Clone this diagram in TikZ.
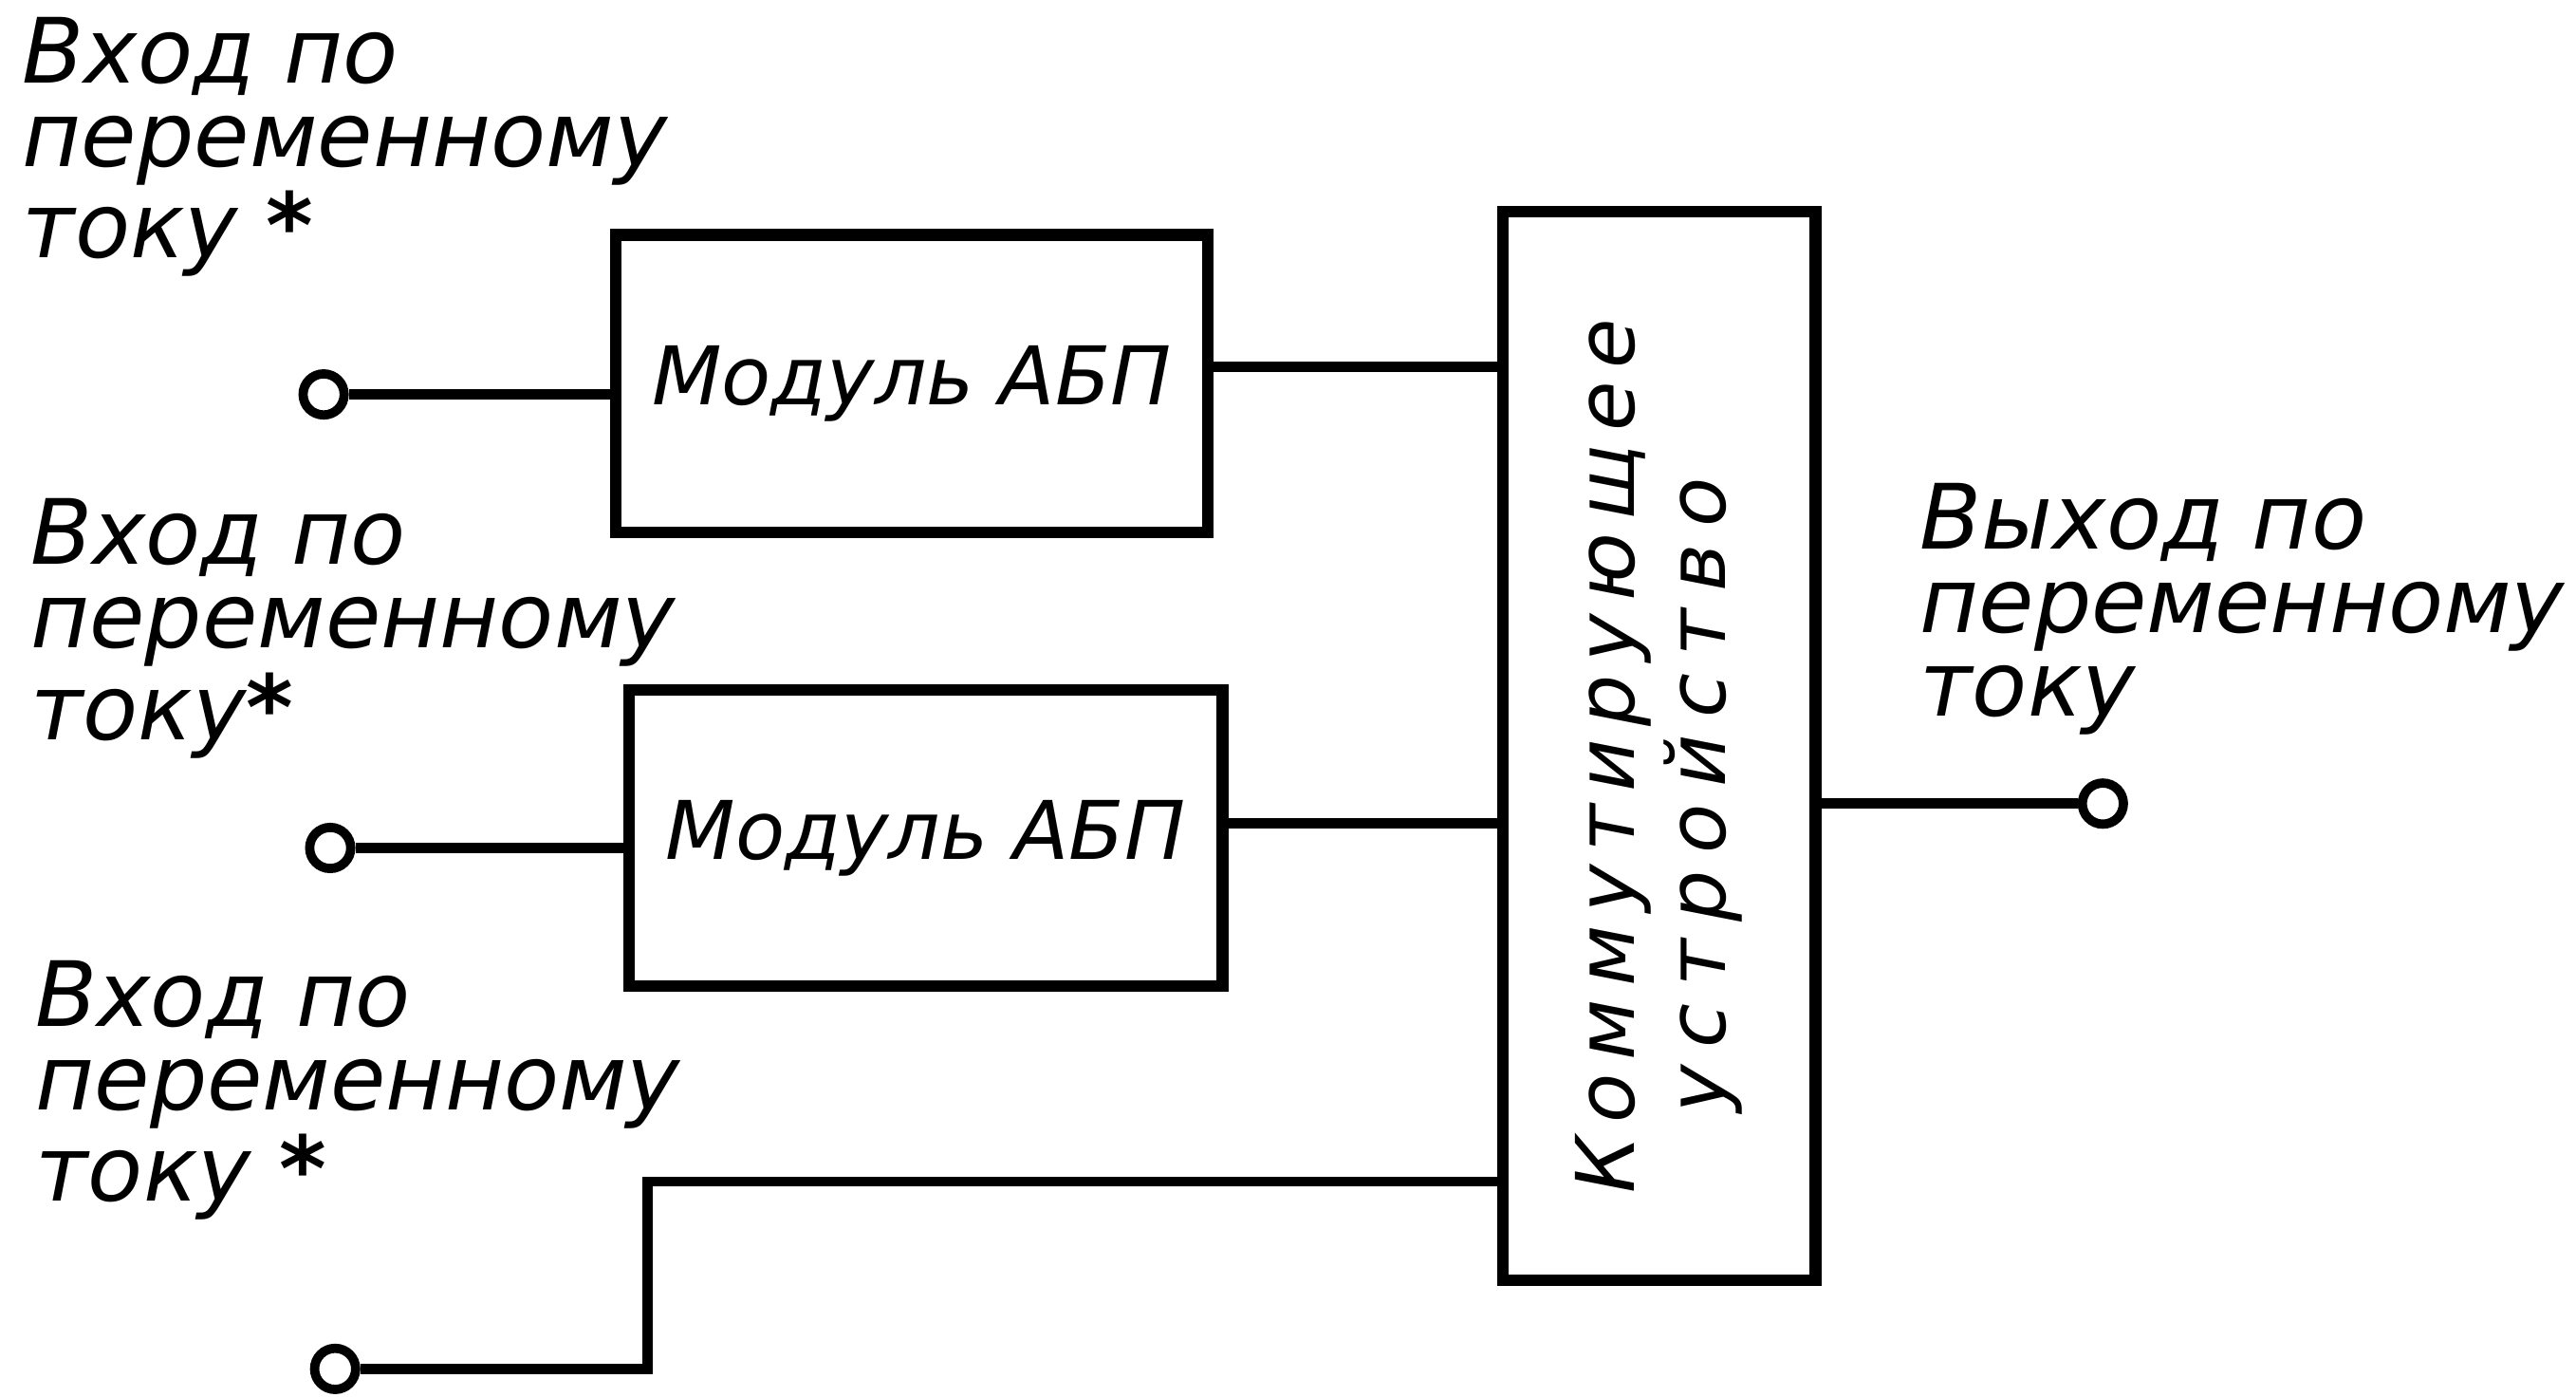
\documentclass[tikz,border=0pt]{standalone}
\usepackage{fontspec}
\setmainfont{DejaVu Sans}[ItalicFont={DejaVu Sans Oblique}]
\newfontfamily\spacedfont{DejaVu Sans Oblique}[LetterSpace=16]
\newfontfamily\widefont{DejaVu Sans Oblique}[LetterSpace=21]
\begin{document}
\begin{tikzpicture}[x=0.01cm,y=-0.01cm,
  box/.style={draw, line width=2pt, inner sep=0pt},
  wire/.style={line width=1.8pt},
  term/.style={circle, draw, line width=1.6pt, minimum size=0.25cm, inner sep=0pt, fill=white},
  lbl/.style={align=left, anchor=base west, inner sep=0pt, font={\fontsize{15.6pt}{14.5pt}\selectfont\itshape}},
  boxtxt/.style={font={\fontsize{14pt}{16pt}\selectfont\itshape}},
  vtxt/.style={rotate=90, anchor=base, inner sep=0pt}]
\useasboundingbox (0,0) rectangle (1568,850);
% blocks
\node[box, boxtxt, minimum width=3.6cm, minimum height=1.81cm] (m1) at (555,233.5) {Модуль АБП};
\node[box, boxtxt, minimum width=3.61cm, minimum height=1.8cm] (m2) at (563.5,510) {Модуль АБП};
\node[box, minimum width=1.9cm, minimum height=6.5cm] (sw) at (1010,454) {};
\node[vtxt, font={\spacedfont\fontsize{14pt}{16pt}\selectfont}] (sw1) at (995,460) {Коммутирующее};
\node[vtxt, font={\widefont\fontsize{14pt}{16pt}\selectfont}] (sw2) at (1050,484) {устройство};
% terminals
\node[term] (c1) at (197,240) {};
\node[term] (c2) at (201,516) {};
\node[term] (c3) at (204,833) {};
\node[term] (co) at (1280,489) {};
\coordinate (k3) at (394,719);
% labels (anchored at the baseline of their last line)
\node[lbl] (l1) at (13,157) {Вход по\\переменному\\току \textbf{*}};
\node[lbl] (l2) at (18,450) {Вход по\\переменному\\току\textbf{*}};
\node[lbl] (l3) at (21,731) {Вход по\\переменному\\току \textbf{*}};
\node[lbl] (lo) at (1168,436) {Выход по\\переменному\\току};
% wires
\draw[wire] (c1) -- (c1 -| m1.west);
\draw[wire] (c2) -- (c2 -| m2.west);
\draw[wire] ([yshift=0.105cm]m1.east) -- ([yshift=0.105cm]m1.east -| sw.west);
\draw[wire] ([yshift=0.09cm]m2.east) -- ([yshift=0.09cm]m2.east -| sw.west);
\draw[wire] (c3) -- (c3 -| k3) -- (k3) -- (k3 -| sw.west);
\draw[wire] (co -| sw.east) -- (co);
\end{tikzpicture}
\end{document}
